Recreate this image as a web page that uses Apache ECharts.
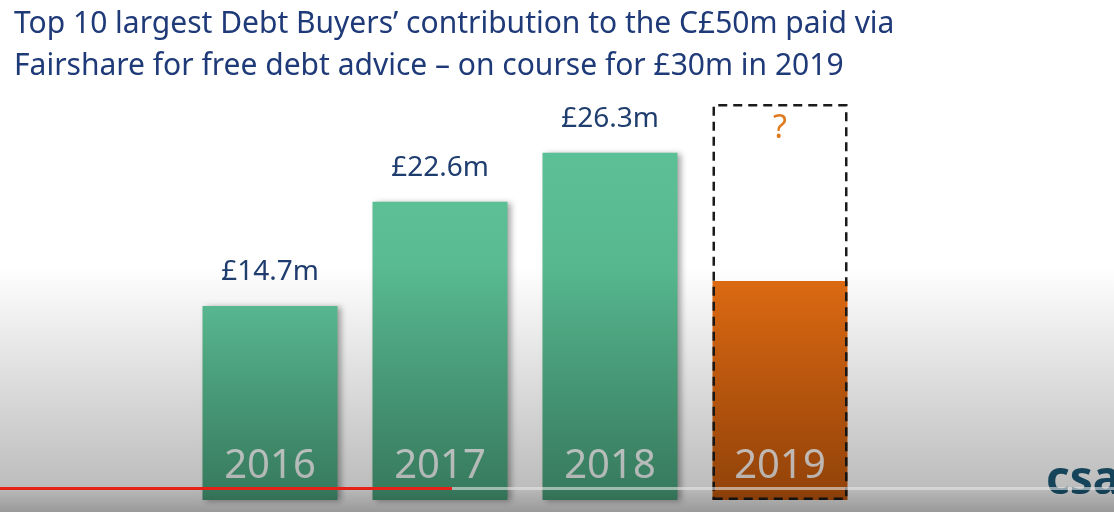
<!DOCTYPE html>
<html>
<head>
<meta charset="utf-8">
<script src="https://cdn.jsdelivr.net/npm/echarts@6/dist/echarts.min.js"></script>
<style>
  html, body { margin: 0; padding: 0; background: #fff; }
  #chart { width: 1114px; height: 512px; }
</style>
</head>
<body>
<div id="chart"></div>
<script>
// data
var years = ['2016', '2017', '2018', '2019'];
var paid = [14.7, 22.6, 26.3, null];          // £m, green bars
var paidLabels = ['£14.7m', '£22.6m', '£26.3m', ''];
var soFar2019 = [null, null, null, 16.6];     // £m, orange bar (partial year)
var target2019 = [null, null, null, 30];      // £m, dashed "on course" box
var titleLines = [
    'Top 10 largest Debt Buyers\u2019 contribution to the C£50m paid via',
    'Fairshare for free debt advice \u2013 on course for £30m in 2019'
];

var myChart = echarts.init(document.getElementById('chart'));

var greenFill = new echarts.graphic.LinearGradient(0, 0, 0, 1, [
    { offset: 0, color: '#5cc096' },
    { offset: 1, color: '#4ba67f' }
]);
var orangeFill = new echarts.graphic.LinearGradient(0, 0, 0, 1, [
    { offset: 0, color: '#e06b12' },
    { offset: 1, color: '#c85b0d' }
]);

var option = {
    backgroundColor: '#ffffff',
    animation: false,
    title: {
        text: titleLines.join('\n'),
        left: 9,
        top: -2,
        textStyle: {
            fontFamily: 'Noto Sans',
            fontSize: 30,
            fontWeight: 'normal',
            color: '#1f3a78',
            lineHeight: 42
        }
    },
    grid: { left: 185, right: 249, top: 104, bottom: 12 },
    xAxis: {
        type: 'category',
        data: years,
        axisLine: { show: false },
        axisTick: { show: false },
        axisLabel: {
            inside: true,
            margin: 13,
            fontFamily: 'Noto Sans',
            fontSize: 40,
            color: 'rgba(250,250,250,0.92)'
        },
        z: 10
    },
    yAxis: {
        type: 'value',
        min: 0,
        max: 30,
        show: false,
        splitLine: { show: false }
    },
    series: [
        {
            name: 'paid',
            type: 'bar',
            barWidth: 135,
            data: paid,
            itemStyle: {
                color: greenFill,
                shadowBlur: 6,
                shadowOffsetX: 3,
                shadowOffsetY: 1,
                shadowColor: 'rgba(0,0,0,0.35)'
            },
            label: {
                show: true,
                position: 'top',
                distance: 20,
                fontFamily: 'Noto Sans',
                fontSize: 28,
                color: '#1f3d6e',
                formatter: function (p) { return paidLabels[p.dataIndex]; }
            }
        },
        {
            name: 'so far',
            type: 'bar',
            barWidth: 135,
            barGap: '-100%',
            data: soFar2019,
            itemStyle: { color: orangeFill }
        },
        {
            name: 'target',
            type: 'bar',
            barWidth: 135,
            barGap: '-100%',
            data: target2019,
            itemStyle: {
                color: 'rgba(0,0,0,0)',
                borderColor: '#1a1a1a',
                borderWidth: 2.5,
                borderType: [9, 6]
            },
            label: {
                show: true,
                position: 'insideTop',
                distance: 9,
                fontFamily: 'Noto Sans',
                fontSize: 32,
                color: '#e07a1e',
                formatter: '?'
            }
        }
    ],
    graphic: [
        {
            // video player shade at the bottom of the frame
            type: 'rect',
            left: 0, top: 0,
            shape: { width: 1114, height: 512 },
            silent: true,
            z: 100,
            style: {
                fill: new echarts.graphic.LinearGradient(0, 0, 0, 1, [
                    { offset: 0, color: 'rgba(0,0,0,0)' },
                    { offset: 0.52, color: 'rgba(0,0,0,0)' },
                    { offset: 0.95, color: 'rgba(0,0,0,0.26)' },
                    { offset: 1, color: 'rgba(0,0,0,0.4)' }
                ])
            }
        },
        {
            type: 'rect',
            left: 0, top: 487,
            shape: { width: 452, height: 3 },
            silent: true,
            z: 101,
            style: { fill: '#e62117' }
        },
        {
            type: 'rect',
            left: 452, top: 487,
            shape: { width: 662, height: 3 },
            silent: true,
            z: 101,
            style: { fill: 'rgba(230,230,230,0.6)' }
        },
        {
            type: 'text',
            left: 1046, top: 458,
            z: 99,
            style: {
                text: 'csa',
                fontFamily: 'Noto Sans',
                fontSize: 46,
                fontWeight: 'bold',
                fill: '#1c5a78'
            }
        }
    ]
};
myChart.setOption(option);
</script>
</body>
</html>
